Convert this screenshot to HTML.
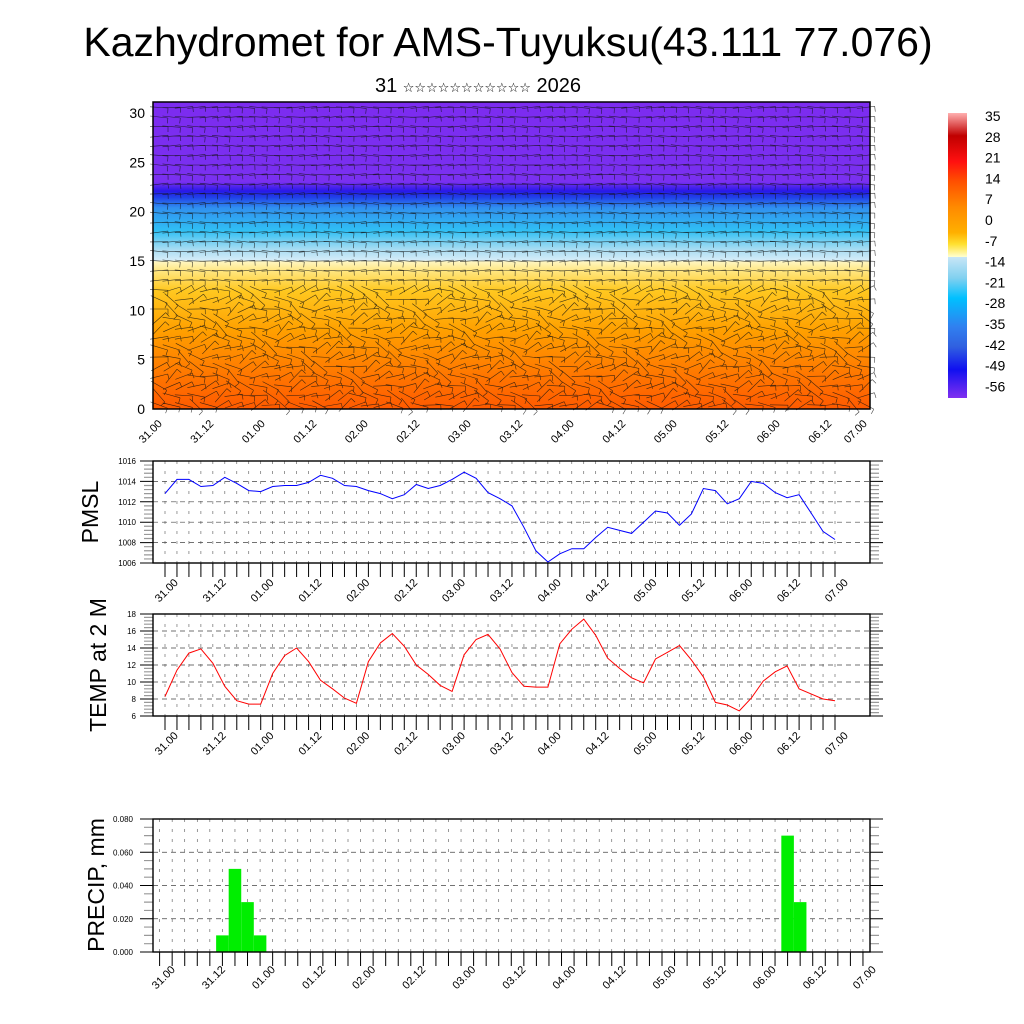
<!DOCTYPE html>
<html><head><meta charset="utf-8">
<style>
html,body{margin:0;padding:0;background:#fff;}
svg{display:block;font-family:"Liberation Sans",sans-serif;}
</style></head>
<body>
<svg id="s" width="1024" height="1024" viewBox="0 0 1024 1024" xmlns="http://www.w3.org/2000/svg">
<defs>
<linearGradient id="tgrad" x1="0" y1="1" x2="0" y2="0">
<stop offset="0" stop-color="#ff5a00"/>
<stop offset="0.10" stop-color="#ff7400"/>
<stop offset="0.257" stop-color="#ffa000"/>
<stop offset="0.386" stop-color="#ffc820"/>
<stop offset="0.45" stop-color="#ffe680"/>
<stop offset="0.48" stop-color="#fff6c0"/>
<stop offset="0.485" stop-color="#d4ecf8"/>
<stop offset="0.52" stop-color="#a8dcf2"/>
<stop offset="0.58" stop-color="#30c0f4"/>
<stop offset="0.655" stop-color="#3090f0"/>
<stop offset="0.69" stop-color="#2040e8"/>
<stop offset="0.71" stop-color="#2818e8"/>
<stop offset="0.74" stop-color="#7a30f0"/>
<stop offset="1" stop-color="#7c2cf0"/>
</linearGradient>
<linearGradient id="cgrad" x1="0" y1="0" x2="0" y2="1">
<stop offset="0" stop-color="#ffb0b0"/>
<stop offset="0.08" stop-color="#c00000"/>
<stop offset="0.17" stop-color="#ff1010"/>
<stop offset="0.24" stop-color="#ff5000"/>
<stop offset="0.33" stop-color="#ff8a00"/>
<stop offset="0.42" stop-color="#ffb000"/>
<stop offset="0.46" stop-color="#ffe030"/>
<stop offset="0.505" stop-color="#ffffd0"/>
<stop offset="0.505" stop-color="#c8e6f6"/>
<stop offset="0.58" stop-color="#80d0f0"/>
<stop offset="0.65" stop-color="#00c0ff"/>
<stop offset="0.75" stop-color="#3080f0"/>
<stop offset="0.82" stop-color="#3060e0"/>
<stop offset="0.9" stop-color="#1010f0"/>
<stop offset="1" stop-color="#8030f0"/>
</linearGradient>
</defs>
<text x="508" y="56" font-size="41" text-anchor="middle">Kazhydromet for AMS-Tuyuksu(43.111 77.076)</text>
<text x="478" y="92" font-size="20" text-anchor="middle" font-family="Liberation Sans, DejaVu Sans, sans-serif">31 <tspan font-size="13">☆☆☆☆☆☆☆☆☆☆☆</tspan> 2026</text>
<g id="topchart"></g>
<g id="cbar"></g>
<g id="pmsl"></g>
<g id="temp"></g>
<g id="prec"></g>
<text transform="translate(98,512) rotate(-90)" font-size="23" text-anchor="middle">PMSL</text>
<text transform="translate(106,665) rotate(-90)" font-size="23" text-anchor="middle">TEMP at 2 M</text>
<text transform="translate(104,885) rotate(-90)" font-size="23" text-anchor="middle">PRECIP, mm</text>
</svg>
<script>
const timeLabels = ["31.00","31.12","01.00","01.12","02.00","02.12","03.00","03.12","04.00","04.12","05.00","05.12","06.00","06.12","07.00"];
const pmslValues = [1012.8,1014.2,1014.2,1013.5,1013.6,1014.4,1013.8,1013.1,1013.0,1013.5,1013.6,1013.6,1013.9,1014.6,1014.3,1013.6,1013.5,1013.1,1012.8,1012.3,1012.7,1013.7,1013.3,1013.6,1014.2,1014.9,1014.3,1012.9,1012.3,1011.6,1009.5,1007.2,1006.1,1006.9,1007.4,1007.4,1008.5,1009.5,1009.2,1008.9,1010.0,1011.1,1010.9,1009.7,1010.8,1013.3,1013.1,1011.8,1012.3,1014.0,1013.8,1012.9,1012.4,1012.7,1010.9,1009.1,1008.3];
const tempValues = [8.3,11.4,13.4,13.9,12.2,9.5,7.8,7.4,7.4,11.0,13.1,14.0,12.4,10.2,9.2,8.1,7.5,12.4,14.6,15.7,14.2,12.0,10.9,9.6,8.9,13.2,15.0,15.6,13.9,11.1,9.5,9.4,9.4,14.5,16.2,17.4,15.5,12.8,11.6,10.5,9.9,12.7,13.5,14.3,12.6,10.6,7.6,7.3,6.6,8.1,10.1,11.2,11.9,9.2,8.6,8.0,7.8];
const precipValues = [0,0,0,0,0,0.01,0.05,0.03,0.01,0,0,0,0,0,0,0,0,0,0,0,0,0,0,0,0,0,0,0,0,0,0,0,0,0,0,0,0,0,0,0,0,0,0,0,0,0,0,0,0,0,0.07,0.03,0,0,0,0,0];
const pmslTicks = [1006,1008,1010,1012,1014,1016];
const tempTicks = [6,8,10,12,14,16,18];
const precipTicks = [0,0.02,0.04,0.06,0.08];
const heightTicks = [0,5,10,15,20,25,30];
const cbarLabels = ["35","28","21","14","7","0","-7","-14","-21","-28","-35","-42","-49","-56"];

const NS = "http://www.w3.org/2000/svg";
function el(tag, attrs, parent){const e=document.createElementNS(NS,tag);for(const k in attrs)e.setAttribute(k,attrs[k]);parent.appendChild(e);return e;}

/* ---------- top cross-section ---------- */
const topG = document.getElementById('topchart');
const TL=153,TR=870,TT=102,TB=409;
const hy = h => 409 - h*9.87;
let r = el('rect',{x:TL,y:TT,width:TR-TL,height:TB-TT,fill:'url(#tgrad)'},topG);


const barbs = el('g',{stroke:'#111','stroke-width':0.6,opacity:0.8},topG);


let pd='';
for(let j=0;j<32;j++){
  for(let i=0;i<58;i++){
    const x=TL+6+i*12.4, y=TB-4-j*9.6;
    const a=(j>12?0.12:0.55)*Math.sin(i*0.7+j*1.3)+(j<12?0.35*Math.cos(i*1.9+j*0.4):0);
    const L=18;
    const dx=Math.cos(a)*L, dy=Math.sin(a)*L;
    pd+=`M${(x-dx/2).toFixed(1)} ${(y-dy/2).toFixed(1)}L${(x+dx/2).toFixed(1)} ${(y+dy/2).toFixed(1)}`;
    pd+=`M${(x+dx/2).toFixed(1)} ${(y+dy/2).toFixed(1)}l${(-dy*0.3).toFixed(1)} ${(dx*0.3).toFixed(1)}`;
  }
}
el('path',{d:pd,fill:'none'},barbs);
r = el('rect',{x:TL,y:TT,width:TR-TL,height:TB-TT,fill:'none',stroke:'#000','stroke-width':1.5},topG);


heightTicks.forEach(h=>{
  const t=el('text',{x:145,y:hy(h)+5,'font-size':14,'text-anchor':'end'},topG);
  t.textContent=h;
  
  
});
timeLabels.forEach((lab,k)=>{
  const x = k<14 ? 153+k*51.5 : 858;
  const t=el('text',{transform:`translate(${x},${434}) rotate(-45)`,'font-size':11,'text-anchor':'middle'},topG);
  t.textContent=lab;
  
  
});

/* ---------- colour bar ---------- */
const cb = document.getElementById('cbar');
r = el('rect',{x:948,y:113,width:19,height:285,fill:'url(#cgrad)'},cb);


cbarLabels.forEach((lab,k)=>{
  const t=el('text',{x:985,y:121+k*20.8,'font-size':14},cb);
  t.textContent=lab;
  
  
});

/* ---------- line panels ---------- */
function panel(gid, top_, bot, lo, hi, ticks, values, color, fmt, name){
  const g=document.getElementById(gid);
  const L=153,R=870;
  const xs = i => 165 + i*(835-165)/56;
  const ys = v => bot - (v-lo)/(hi-lo)*(bot-top_);
  let grid='';
  for(let i=0;i<57;i++){grid+=`M${xs(i)} ${top_}L${xs(i)} ${bot}`;}
  const gv=el('path',{d:grid,stroke:'#555','stroke-width':0.6,'stroke-dasharray':'3,7'},g);
  
  
  let gh='';
  ticks.slice(1,-1).forEach(v=>{gh+=`M${L} ${ys(v)}L${R} ${ys(v)}`;});
  const ghe=el('path',{d:gh,stroke:'#444','stroke-width':0.7,'stroke-dasharray':'5,4'},g);
  
  
  let tk='',mn='';
  for(let i=0;i<57;i++){tk+=`M${xs(i)} ${bot}L${xs(i)} ${bot+14}`;}
  ticks.forEach((v,k)=>{tk+=`M${L-13} ${ys(v)}L${L} ${ys(v)}M${R} ${ys(v)}L${R+13} ${ys(v)}`;
    if(k<ticks.length-1){for(let m=1;m<5;m++){const y=ys(v+(ticks[1]-ticks[0])*m/5);mn+=`M${L-9} ${y}L${L} ${y}M${R} ${y}L${R+9} ${y}`;}}});
  const mne=el('path',{d:mn,stroke:'#999','stroke-width':1.2},g);
  
  
  const tke=el('path',{d:tk,stroke:'#000','stroke-width':1},g);
  
  
  const fr=el('rect',{x:L,y:top_,width:R-L,height:bot-top_,fill:'none',stroke:'#000','stroke-width':1.4},g);
  
  
  ticks.forEach(v=>{
    const t=el('text',{x:L-17,y:ys(v)+3,'font-size':8,'text-anchor':'end'},g);
    t.textContent=fmt(v);
    
    
  });
  timeLabels.forEach((lab,k)=>{
    const xx=165+k*(670/14);
    const t=el('text',{transform:`translate(${xx+4},${bot+30}) rotate(-45)`,'font-size':11,'text-anchor':'middle'},g);
    t.textContent=lab;
    
    
  });
  const pts=values.map((v,i)=>`${xs(i).toFixed(1)},${ys(v).toFixed(1)}`).join(' ');
  const pl=el('polyline',{points:pts,fill:'none',stroke:color,'stroke-width':1},g);
  
  
}
panel('pmsl',461,563,1006,1016,pmslTicks,pmslValues,'#0000ff',v=>String(v),'pmsl');
panel('temp',614,716,6,18,tempTicks,tempValues,'#ff0000',v=>String(v),'temp');

/* ---------- precipitation bars ---------- */
(function(){
  const g=document.getElementById('prec');
  const L=153,R=870,T=819,B=952;
  const xs=i=>159.6+i*12.56;
  const ys=v=>B-v/0.08*(B-T);
  let grid='';
  for(let i=0;i<57;i++){grid+=`M${xs(i)} ${T}L${xs(i)} ${B}`;}
  const gv=el('path',{d:grid,stroke:'#555','stroke-width':0.6,'stroke-dasharray':'3,7'},g);
  
  
  let gh='';
  precipTicks.slice(1,-1).forEach(v=>{gh+=`M${L} ${ys(v)}L${R} ${ys(v)}`;});
  const ghe=el('path',{d:gh,stroke:'#444','stroke-width':0.7,'stroke-dasharray':'5,4'},g);
  
  
  precipValues.forEach((v,i)=>{
    if(v<=0)return;
    const b=el('rect',{x:xs(i)-6.28,y:ys(v),width:12.56,height:B-ys(v),fill:'#00ee00'},g);
    
    
  });
  let tk='',mn='';
  for(let i=0;i<57;i++){tk+=`M${xs(i)} ${B}L${xs(i)} ${B+14}`;}
  precipTicks.forEach((v,k)=>{tk+=`M${L-13} ${ys(v)}L${L} ${ys(v)}M${R} ${ys(v)}L${R+13} ${ys(v)}`;
    if(k<precipTicks.length-1){for(let m=1;m<4;m++){const y=ys(v+0.02*m/4);mn+=`M${L-9} ${y}L${L} ${y}M${R} ${y}L${R+9} ${y}`;}}});
  const mne=el('path',{d:mn,stroke:'#999','stroke-width':1.2},g);
  
  
  const tke=el('path',{d:tk,stroke:'#000','stroke-width':1},g);
  
  
  const fr=el('rect',{x:L,y:T,width:R-L,height:B-T,fill:'none',stroke:'#000','stroke-width':1.4},g);
  
  
  precipTicks.forEach(v=>{
    const t=el('text',{x:L-20,y:ys(v)+3,'font-size':8,'text-anchor':'end'},g);
    t.textContent=v.toFixed(3);
    
    
  });
  timeLabels.forEach((lab,k)=>{
    const x=162+k*(701/14);
    const t=el('text',{transform:`translate(${x+4},${B+28}) rotate(-45)`,'font-size':11,'text-anchor':'middle'},g);
    t.textContent=lab;
    
    
  });
})();
</script>
</body></html>
